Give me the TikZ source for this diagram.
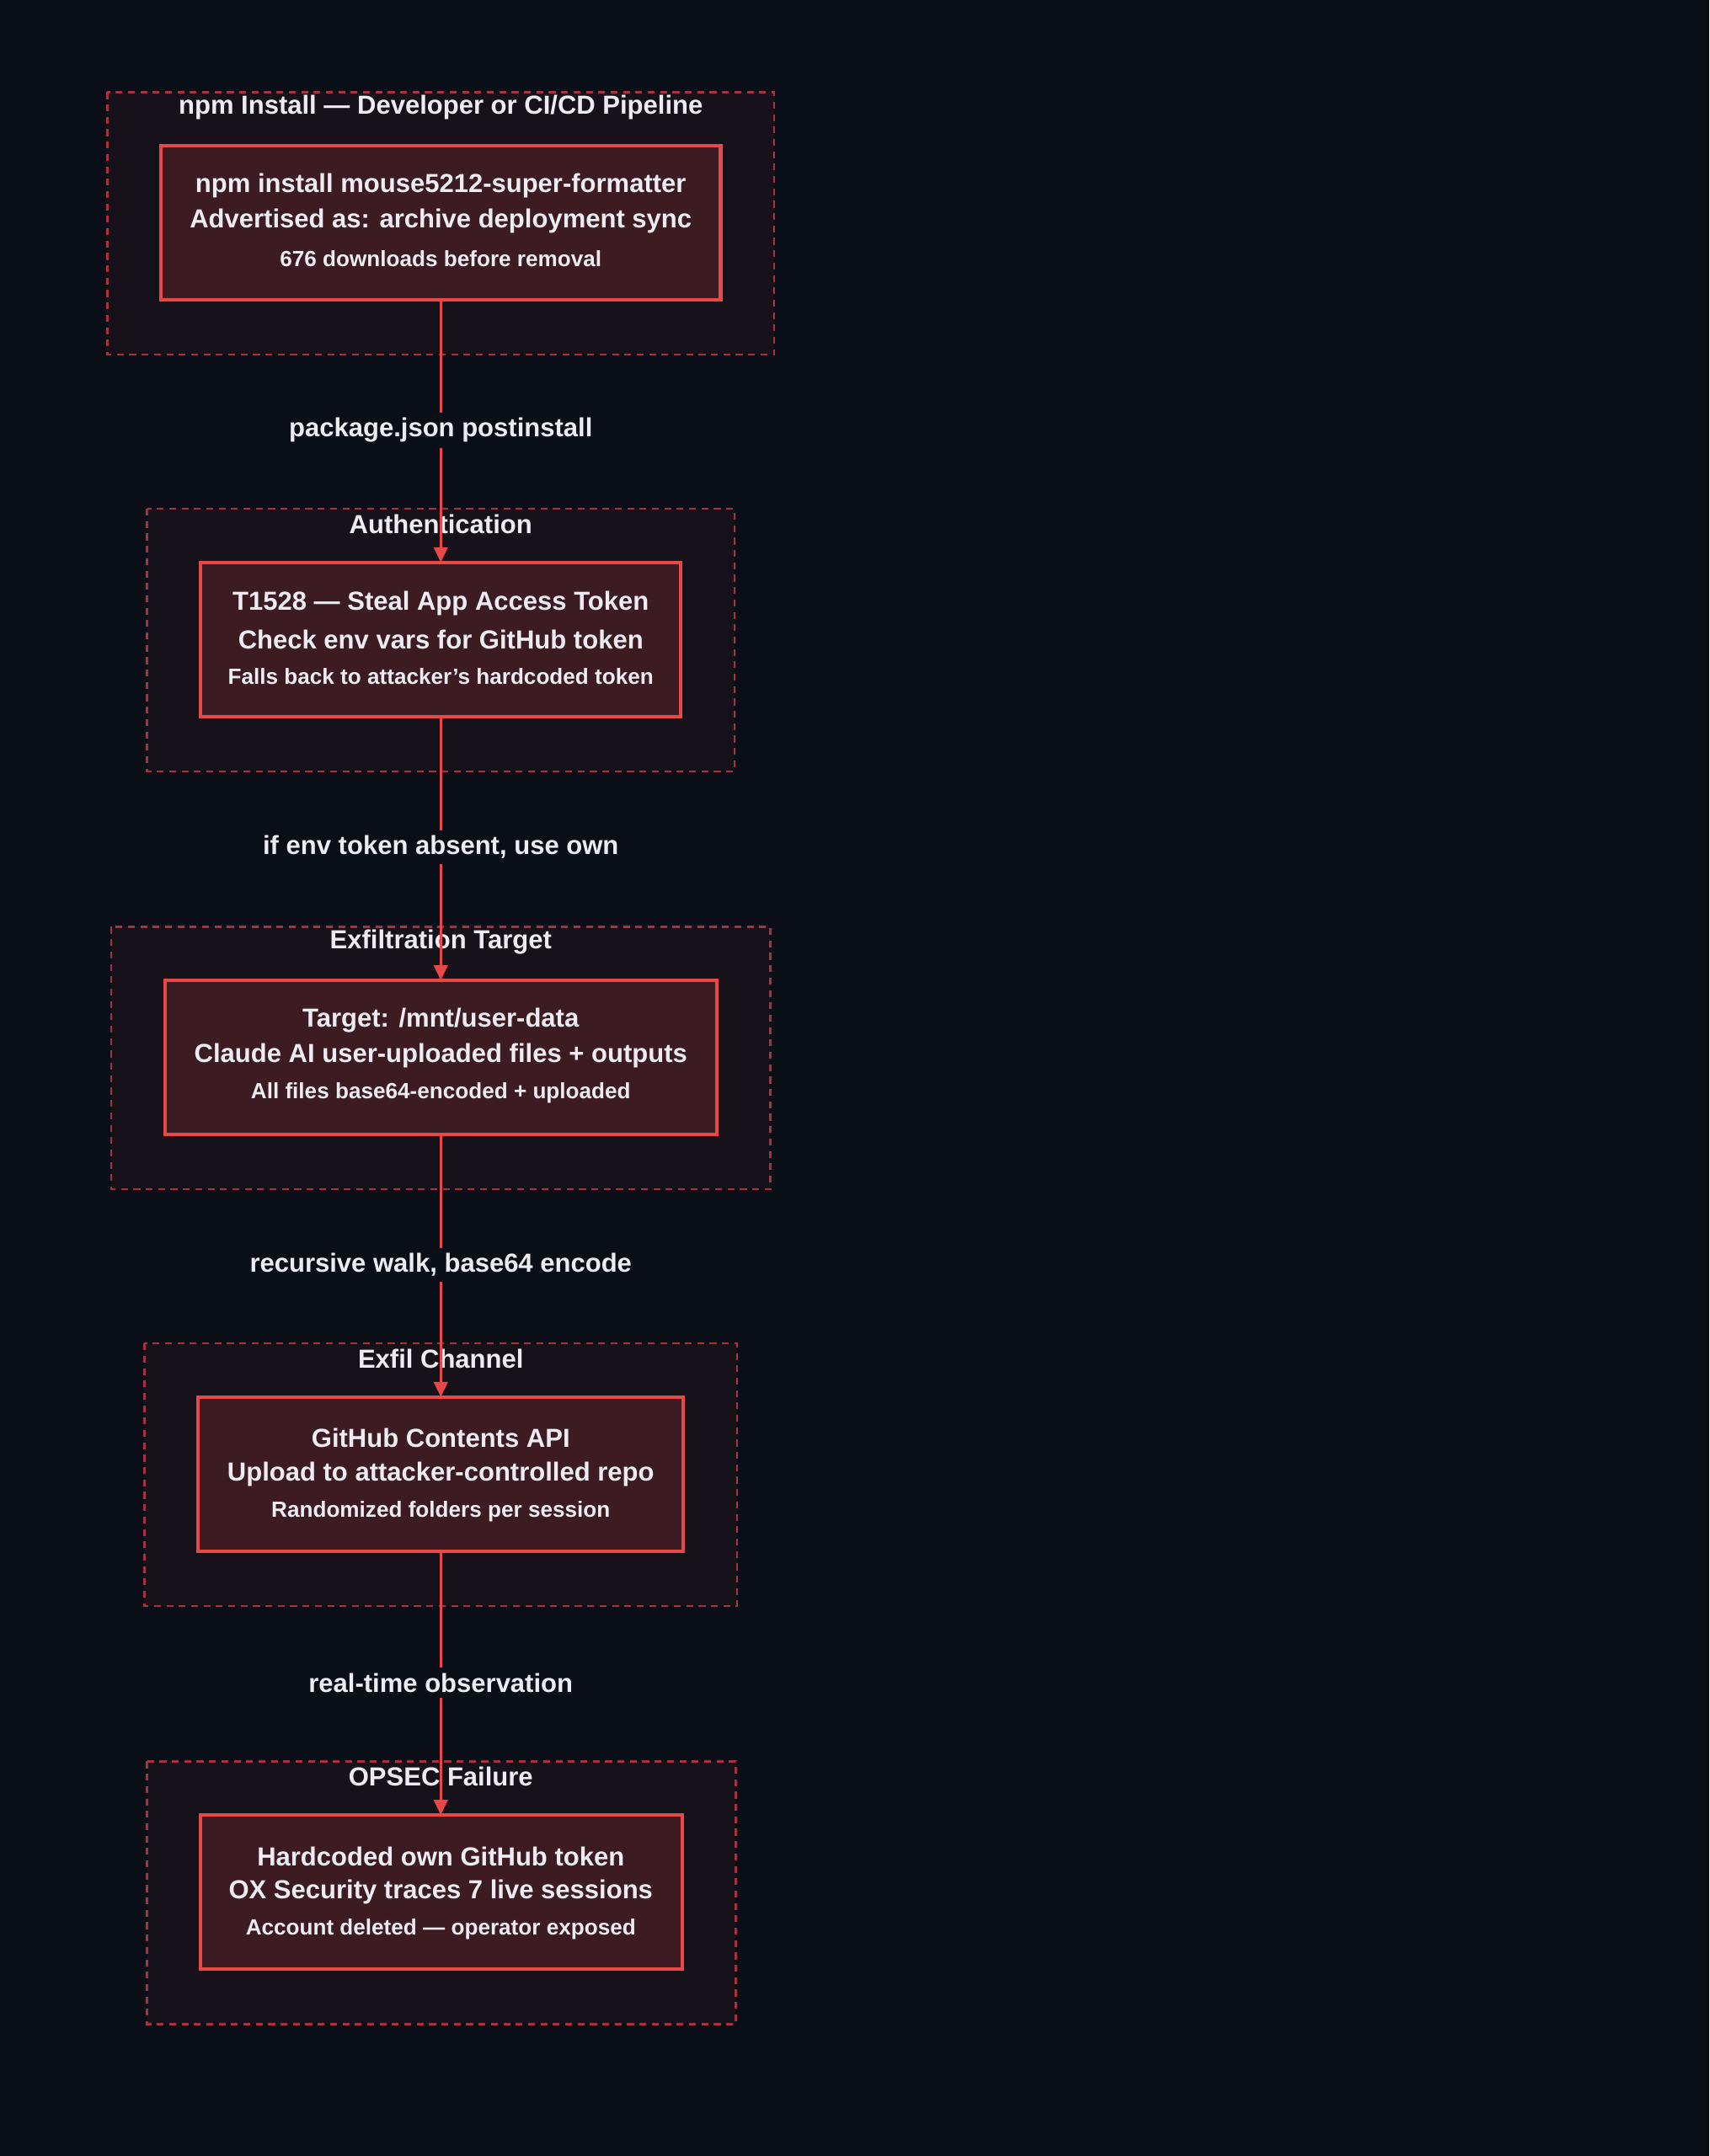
\documentclass[tikz,border=0pt]{standalone}
\usepackage{fontspec}
\setmainfont{Liberation Sans}
\usetikzlibrary{arrows.meta}
\definecolor{bg}{HTML}{0A0E16}
\definecolor{clfill}{HTML}{17111A}
\definecolor{clline}{HTML}{A8323F}
\definecolor{ndfill}{HTML}{3C1C22}
\definecolor{ndline}{HTML}{E84848}
\definecolor{txt}{HTML}{ECECF2}
\tikzset{
 cluster/.style={draw=clline, fill=clfill, dashed, line width=1.5pt, dash pattern=on 5pt off 4pt},
 box/.style={draw=ndline, fill=ndfill, line width=2.5pt},
 ttl/.style={text=txt, font=\bfseries\fontsize{19}{22}\selectfont, anchor=center},
 ln/.style={text=txt, font=\bfseries\fontsize{19}{22}\selectfont, anchor=center},
 sm/.style={text=txt, font=\bfseries\fontsize{16}{19}\selectfont, anchor=center},
 elab/.style={text=txt, fill=bg, font=\bfseries\fontsize{19}{22}\selectfont, inner sep=4pt},
 conn/.style={draw=ndline, line width=2pt, -{Triangle[length=11pt,width=10pt]}}
}
\begin{document}
\begin{tikzpicture}[x=1pt,y=-1pt]
\fill[bg] (0,0) rectangle (1243,1568);
\useasboundingbox (0,0) rectangle (1243,1568);
% clusters
\def\clus#1#2#3#4#5#6{%
 \draw[cluster] (#1,#2) rectangle (#3,#2+191);
 \node[ttl] (t#6) at (320.5,#2+11) {#5};
 \draw[box] (#1+39,#2+39) rectangle (#3-39,#2+151);
 \coordinate (top#6) at (320.5,#2+39);
 \coordinate (bot#6) at (320.5,#2+151);
}
\clus{78}{67}{563}{}{npm Install — Developer or CI/CD Pipeline}{1}
\clus{107}{370}{534}{}{Authentication}{2}
\clus{81}{674}{560}{}{Exfiltration Target}{3}
\clus{105}{977}{536}{}{Exfil Channel}{4}
\clus{107}{1281}{535}{}{OPSEC Failure}{5}
% node texts
\node[ln] (a1) at (320.5,135) {npm install mouse5212-super-formatter};
\node[ln] (a2) at (320.5,161) {Advertised as: archive deployment sync};
\node[sm] (a3) at (320.5,188) {676 downloads before removal};
\node[ln] (b1) at (320.5,439) {T1528 — Steal App Access Token};
\node[ln] (b2) at (320.5,465) {Check env vars for GitHub token};
\node[sm] (b3) at (320.5,492) {Falls back to attacker's hardcoded token};
\node[ln] (c1) at (320.5,742) {Target: /mnt/user-data};
\node[ln] (c2) at (320.5,768) {Claude AI user-uploaded files + outputs};
\node[sm] (c3) at (320.5,795) {All files base64-encoded + uploaded};
\node[ln] (d1) at (320.5,1046) {GitHub Contents API};
\node[ln] (d2) at (320.5,1072) {Upload to attacker-controlled repo};
\node[sm] (d3) at (320.5,1099) {Randomized folders per session};
\node[ln] (e1) at (320.5,1350) {Hardcoded own GitHub token};
\node[ln] (e2) at (320.5,1376) {OX Security traces 7 live sessions};
\node[sm] (e3) at (320.5,1403) {Account deleted — operator exposed};
% connectors
\draw[conn] (bot1) -- (top2);
\draw[conn] (bot2) -- (top3);
\draw[conn] (bot3) -- (top4);
\draw[conn] (bot4) -- (top5);
\node[elab] (l1) at (320.5,313) {package.json postinstall};
\node[elab] (l2) at (320.5,616) {if env token absent, use own};
\node[elab] (l3) at (320.5,920) {recursive walk, base64 encode};
\node[elab] (l4) at (320.5,1224) {real-time observation};
\end{tikzpicture}
\end{document}
